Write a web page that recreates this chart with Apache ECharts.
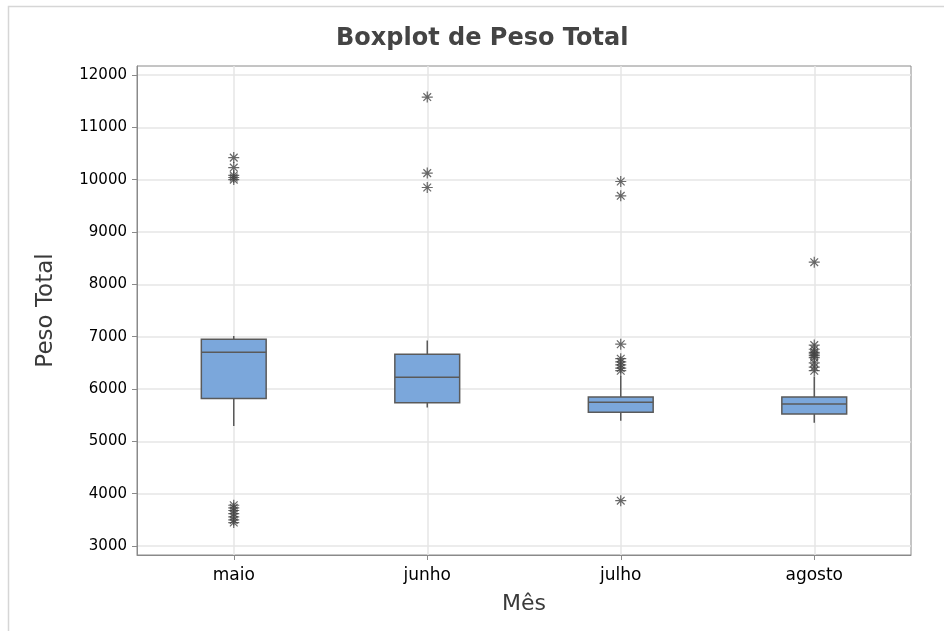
<!DOCTYPE html>
<html>
<head>
<meta charset="utf-8">
<script src="https://cdn.jsdelivr.net/npm/echarts@6/dist/echarts.min.js"></script>
<style>
html,body{margin:0;padding:0;background:#fff;}
#c{width:944px;height:631px;}
</style>
</head>
<body>
<div id="c"></div>
<script>
// ---- data ----
const months = ['maio', 'junho', 'julho', 'agosto'];
const yTicks = [3000, 4000, 5000, 6000, 7000, 8000, 9000, 10000, 11000, 12000];
const boxMin    = [5295, 5645, 5396, 5358];
const boxQ1     = [5817, 5740, 5557, 5524];
const boxMedian = [6704, 6226, 5748, 5715];
const boxQ3     = [6952, 6665, 5849, 5849];
const boxMax    = [7015, 6925, 6251, 6237];
const maioOut   = [10420, 10230, 10080, 10040, 10000, 3780, 3730, 3680, 3620, 3560, 3500, 3450];
const junhoOut  = [11576, 10124, 9849];
const julhoOut  = [9964, 9690, 6856, 6580, 6520, 6460, 6400, 6350, 3868];
const agostoOut = [8423, 6840, 6760, 6700, 6670, 6640, 6600, 6500, 6420, 6350];

const outliers = [maioOut, junhoOut, julhoOut, agostoOut];
const boxData = months.map((m, i) => [i, boxMin[i], boxQ1[i], boxMedian[i], boxQ3[i], boxMax[i]]);
const outData = [];
outliers.forEach((arr, i) => arr.forEach(v => outData.push([i, v])));

const chart = echarts.init(document.getElementById('c'));
const FONT = '"DejaVu Sans", sans-serif';
const LINE = '#5a5a5a';

chart.setOption({
  animation: false,
  backgroundColor: '#fff',
  graphic: [{
    type: 'rect', silent: true,
    shape: { x: 8.5, y: 6.5, width: 1000, height: 1000 },
    style: { fill: 'none', stroke: '#d6d6d6', lineWidth: 1.5 }
  }],
  title: {
    text: 'Boxplot de Peso Total',
    left: 336, top: 27, padding: 0,
    textStyle: { fontFamily: FONT, fontSize: 24, fontWeight: 'bold', color: '#444' }
  },
  grid: { left: 137, right: 33, top: 66, bottom: 76, show: true, borderColor: '#8a8a8a', borderWidth: 1, backgroundColor: 'transparent' },
  xAxis: {
    type: 'value', min: -0.5, max: 3.5,
    name: 'Mês', nameLocation: 'middle', nameGap: 38,
    nameTextStyle: { fontFamily: FONT, fontSize: 22, color: '#3a3a3a' },
    axisLine: { show: true, onZero: false, lineStyle: { color: '#8a8a8a' } },
    axisTick: { show: true, length: 5, customValues: [0, 1, 2, 3], lineStyle: { color: '#8a8a8a' } },
    axisLabel: { customValues: [0, 1, 2, 3], formatter: v => months[Math.round(v)], margin: 12,
      fontFamily: FONT, fontSize: 17, color: '#000' },
    splitLine: { show: true, lineStyle: { color: '#e6e6e6', width: 1.5 } }
  },
  yAxis: {
    type: 'value', min: 2830, max: 12170,
    name: 'Peso Total', nameLocation: 'middle', nameGap: 79, nameRotate: 90,
    nameTextStyle: { fontFamily: FONT, fontSize: 23, color: '#3a3a3a' },
    axisLine: { show: true, onZero: false, lineStyle: { color: '#8a8a8a' } },
    axisTick: { show: true, length: 5, customValues: yTicks, lineStyle: { color: '#8a8a8a' } },
    axisLabel: { customValues: yTicks, formatter: v => String(v), margin: 10,
      fontFamily: FONT, fontSize: 15, color: '#000' },
    splitLine: { show: true, lineStyle: { color: '#e6e6e6', width: 1.5 } }
  },
  series: [{
    type: 'custom',
    data: boxData,
    encode: { x: 0, y: [1, 2, 3, 4, 5] },
    renderItem: function (params, api) {
      const i = api.value(0);
      const pMin = api.coord([i, api.value(1)]);
      const pQ1 = api.coord([i, api.value(2)]);
      const pMed = api.coord([i, api.value(3)]);
      const pQ3 = api.coord([i, api.value(4)]);
      const pMax = api.coord([i, api.value(5)]);
      const bw = api.size([1, 0])[0] * 0.335;
      const x0 = pQ1[0] - bw / 2, x1 = pQ1[0] + bw / 2;
      const st = { stroke: LINE, lineWidth: 1.5 };
      return {
        type: 'group',
        children: [
          { type: 'line', shape: { x1: pQ3[0], y1: pQ3[1], x2: pMax[0], y2: pMax[1] }, style: st },
          { type: 'line', shape: { x1: pQ1[0], y1: pQ1[1], x2: pMin[0], y2: pMin[1] }, style: st },
          { type: 'rect', shape: { x: x0, y: pQ3[1], width: bw, height: pQ1[1] - pQ3[1] },
            style: { fill: '#7ba7db', stroke: LINE, lineWidth: 1.5 } },
          { type: 'line', shape: { x1: x0, y1: pMed[1], x2: x1, y2: pMed[1] }, style: st }
        ]
      };
    }
  }, {
    type: 'scatter',
    data: outData,
    symbol: 'path://M0,5 L10,5 M5,0 L5,10 M1.5,1.5 L8.5,8.5 M8.5,1.5 L1.5,8.5',
    symbolSize: 11,
    itemStyle: { color: 'transparent', borderColor: '#444', borderWidth: 1.2 },
    z: 5
  }]
});
</script>
</body>
</html>
